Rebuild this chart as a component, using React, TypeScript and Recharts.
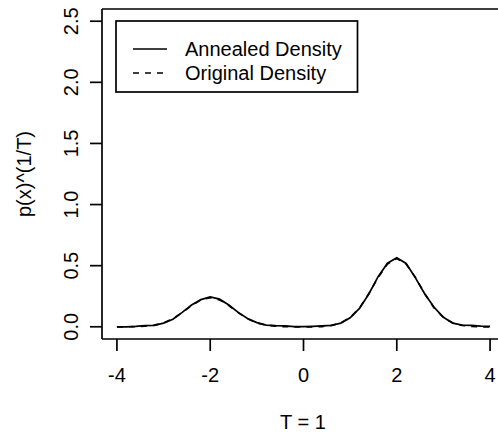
import { Line, LineChart, ReferenceLine, XAxis, YAxis } from 'recharts'

const xs = [
  -4.0, -3.8, -3.6, -3.4, -3.2, -3.0, -2.8, -2.6, -2.4, -2.2, -2.0, -1.8, -1.6, -1.4, -1.2, -1.0, -0.8, -0.6, -0.4,
  -0.2, 0.0, 0.2, 0.4, 0.6, 0.8, 1.0, 1.2, 1.4, 1.6, 1.8, 2.0, 2.2, 2.4, 2.6, 2.8, 3.0, 3.2, 3.4, 3.6, 3.8, 4.0,
]
// kernel estimate, slightly wiggly
const annealed = [
  0.0, 0.0, 0.003, 0.01, 0.012, 0.03, 0.062, 0.118, 0.178, 0.222, 0.245, 0.226, 0.178, 0.118, 0.068, 0.034, 0.014,
  0.01, 0.008, 0.002, 0.001, 0.004, 0.008, 0.012, 0.03, 0.074, 0.15, 0.268, 0.41, 0.52, 0.565, 0.518, 0.4, 0.268,
  0.16, 0.078, 0.03, 0.013, 0.012, 0.006, 0.004,
]
const original = [
  0.0, 0.0, 0.001, 0.005, 0.013, 0.032, 0.066, 0.116, 0.173, 0.22, 0.239, 0.22, 0.173, 0.116, 0.066, 0.032, 0.013,
  0.005, 0.001, 0.0, 0.0, 0.0, 0.002, 0.011, 0.031, 0.076, 0.154, 0.27, 0.404, 0.514, 0.559, 0.514, 0.404, 0.27,
  0.154, 0.076, 0.031, 0.011, 0.003, 0.0, 0.0,
]
const xTicks = [-4, -2, 0, 2, 4]
const yTicks = [0, 0.5, 1, 1.5, 2, 2.5]
const legendItems = ['Annealed Density', 'Original Density']

const data = xs.map((x, i) => ({ x, annealed: annealed[i], original: original[i] }))

const font = '"Liberation Sans", Arial, sans-serif'
const lw = 1.7

function XTick({ x, y, payload }: any) {
  return (
    <text x={x} y={382} textAnchor="middle" fontSize={20} fontFamily={font} fill="#000">
      {payload.value}
    </text>
  )
}

function YTick({ y, payload }: any) {
  return (
    <text x={78} y={y} transform={`rotate(-90, 78, ${y})`} textAnchor="middle" fontSize={20} fontFamily={font} fill="#000">
      {payload.value.toFixed(1)}
    </text>
  )
}

export default function App() {
  return (
    <div style={{ position: 'absolute', left: 0, top: 0, width: 498, height: 438, overflow: 'hidden', background: '#fff' }}>
      <LineChart width={506} height={438} data={data} margin={{ top: 9, right: 1, bottom: 0, left: 0 }}>
        <XAxis
          dataKey="x"
          type="number"
          domain={[-4.32, 4.32]}
          ticks={xTicks}
          height={99}
          tickSize={12}
          tick={<XTick />}
          stroke="#000"
          strokeWidth={lw}
          allowDataOverflow
        />
        <YAxis
          type="number"
          domain={[-0.1, 2.6]}
          ticks={yTicks}
          width={102}
          tickSize={12}
          tick={<YTick />}
          stroke="#000"
          strokeWidth={lw}
          allowDataOverflow
        />
        <ReferenceLine y={2.6} stroke="#000" strokeWidth={lw} ifOverflow="visible" />
        <Line dataKey="original" type="linear" stroke="#000" strokeWidth={lw} strokeDasharray="6 6" dot={false} isAnimationActive={false} />
        <Line dataKey="annealed" type="linear" stroke="#000" strokeWidth={lw} dot={false} isAnimationActive={false} />
      </LineChart>
      <svg width={498} height={438} style={{ position: 'absolute', left: 0, top: 0, pointerEvents: 'none' }}>
        <text x={31} y={174} transform="rotate(-90, 31, 174)" textAnchor="middle" fontSize={20} fontFamily={font} fill="#000">
          p(x)^(1/T)
        </text>
        <text x={303} y={429} textAnchor="middle" fontSize={20} fontFamily={font} fill="#000">
          T = 1
        </text>
        <rect x={116} y={21} width={241.5} height={71} fill="#fff" stroke="#000" strokeWidth={lw} />
        {legendItems.map((label, i) => (
          <g key={label}>
            <line
              x1={133}
              x2={167}
              y1={49 + i * 24}
              y2={49 + i * 24}
              stroke="#000"
              strokeWidth={lw}
              strokeDasharray={i === 1 ? '6 6' : undefined}
            />
            <text x={185} y={56 + i * 24} fontSize={20} fontFamily={font} fill="#000">
              {label}
            </text>
          </g>
        ))}
      </svg>
    </div>
  )
}
